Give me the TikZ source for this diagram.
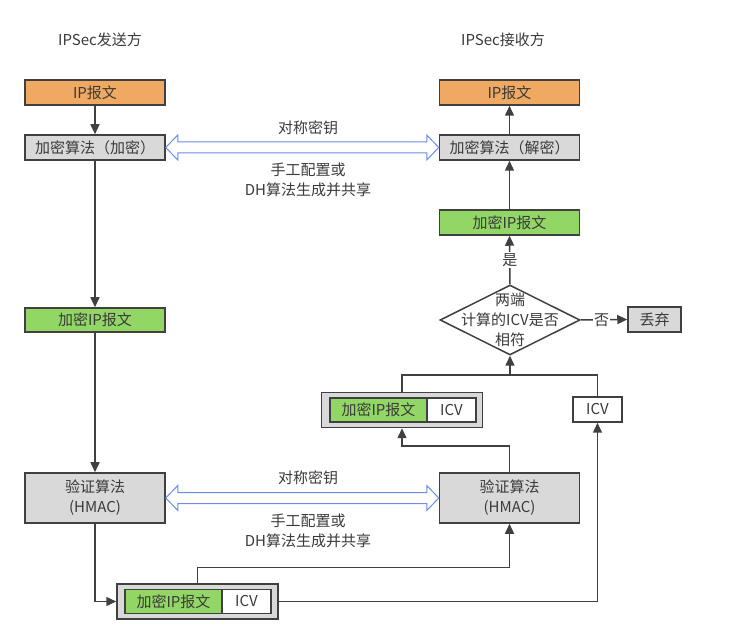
\documentclass[tikz,border=0pt]{standalone}
\usepackage{fontspec}
\setmainfont{Noto Sans CJK SC}
\usetikzlibrary{arrows.meta,calc,shapes.geometric}

\definecolor{linec}{HTML}{404040}
\definecolor{txtc}{HTML}{3A3A3A}
\definecolor{ipc}{HTML}{F0A962}
\definecolor{cipherc}{HTML}{92D765}
\definecolor{algc}{HTML}{D9D9D9}
\definecolor{keyc}{HTML}{6A8DE6}

\tikzset{every picture/.style={line width=1.5pt}}
\tikzset{
  box/.style={draw=linec, line width=1.5pt, text=txtc, inner sep=0pt,
    minimum width=140pt, minimum height=25pt, font=\fontsize{15}{20}\selectfont},
  ipbox/.style={box, fill=ipc},
  algbox/.style={box, fill=algc},
  cipherbox/.style={box, fill=cipherc},
  pairbox/.style={box, fill=algc, minimum width=161pt, minimum height=35pt},
  icvbox/.style={box, fill=white, minimum width=49pt, minimum height=24pt},
  flow/.style={draw=linec, line width=1.5pt, -{Triangle[length=10pt,width=9pt]}},
  link/.style={draw=linec, line width=1.5pt},
  note/.style={text=txtc, font=\fontsize{15}{20}\selectfont, align=center, inner sep=1pt},
}

% hollow two-headed key arrow between two nodes
\newcommand{\keyarrow}[2]{%
  \draw[keyc, line width=1pt, fill=white, line join=miter]
    let \p1=(#1.east), \p2=(#2.west) in
    (\x1,\y1) -- (\x1+12pt,\y1+12.5pt) -- (\x1+12pt,\y1+5.5pt)
    -- (\x2-12pt,\y1+5.5pt) -- (\x2-12pt,\y1+12.5pt) -- (\x2,\y1)
    -- (\x2-12pt,\y1-12.5pt) -- (\x2-12pt,\y1-5.5pt)
    -- (\x1+12pt,\y1-5.5pt) -- (\x1+12pt,\y1-12.5pt) -- cycle;}

\begin{document}
\begin{tikzpicture}[x=1pt, y=-1pt]
  \useasboundingbox (0,0) rectangle (737,644);

  % Titles
  \node[note] (snd) at (100,40) {IPSec发送方};
  \node[note] (rcv) at (503,40) {IPSec接收方};

  % Sender side
  \node[ipbox] (ipL) at (95,92.5) {IP报文};
  \node[algbox] (encL) at (95,147.5) {加密算法（加密）};
  \node[cipherbox, minimum height=24pt] (ciphL) at (95,320) {加密IP报文};
  \node[algbox, minimum height=50pt, align=center] (hmacL) at (95,498) {验证算法\\(HMAC)};

  % Receiver side
  \node[ipbox] (ipR) at (509.5,92.5) {IP报文};
  \node[algbox] (decR) at (509.5,147.5) {加密算法（解密）};
  \node[cipherbox] (ciphR) at (509.5,222.5) {加密IP报文};
  \node[draw=linec, line width=1.5pt, diamond, inner sep=0pt,
        minimum width=140pt, minimum height=70pt] (chk) at (510,320) {};
  \node[note] (chkt) at (chk.center) {两端\\计算的ICV是否\\相符};
  \node[algbox, minimum width=53pt] (drop) at (654.5,319.5) {丢弃};
  \node[algbox, minimum height=50pt, align=center] (hmacR) at (509.5,498) {验证算法\\(HMAC)};
  \node[icvbox, minimum height=25pt] (icvR) at (597.5,409.5) {ICV};

  % Packet with ICV (receiver)
  \node[pairbox] (pairT) at (402,410) {};
  \node[cipherbox, minimum width=97pt, minimum height=24pt] (pairTc) at (378.5,410) {加密IP报文};
  \node[icvbox] (pairTi) at (451.5,410) {ICV};

  % Packet with ICV (sender)
  \node[pairbox] (pairB) at (197.5,601.5) {};
  \node[cipherbox, minimum width=97pt, minimum height=24pt] (pairBc) at (173.5,601.5) {加密IP报文};
  \node[icvbox] (pairBi) at (246.5,601.5) {ICV};

  % Shared keys
  \keyarrow{encL}{decR}
  \node[note] (key1) at (308,128) {对称密钥};
  \node[note] (how1) at (308,180) {手工配置或\\DH算法生成并共享};
  \keyarrow{hmacL}{hmacR}
  \node[note] (key2) at (308,478) {对称密钥};
  \node[note] (how2) at (308,531) {手工配置或\\DH算法生成并共享};

  % Sender flow
  \draw[flow] (ipL) -- (encL);
  \draw[flow] (encL) -- (ciphL);
  \draw[flow] (ciphL) -- (hmacL);
  \draw[flow] (hmacL.south) |- (pairB.west);
  \draw[flow] (pairB.north) -- ++(0,-16) -| (hmacR.south);
  \draw[flow] (pairB.east) -| (icvR.south);

  % Receiver flow
  \coordinate (join) at (510,375);
  \draw[flow] (hmacR.north) -- ++(0,-26) -| (pairT.south);
  \draw[flow] (pairT.north) |- (join) -- (chk.south);
  \draw[link] (icvR.north) |- (join);
  \draw[flow] (chk.north) -- node[note, fill=white] {是} (ciphR.south);
  \draw[flow] (chk.east) -- node[note, fill=white, pos=0.45] {否} (drop.west);
  \draw[flow] (ciphR) -- (decR);
  \draw[flow] (decR) -- (ipR);
\end{tikzpicture}
\end{document}
